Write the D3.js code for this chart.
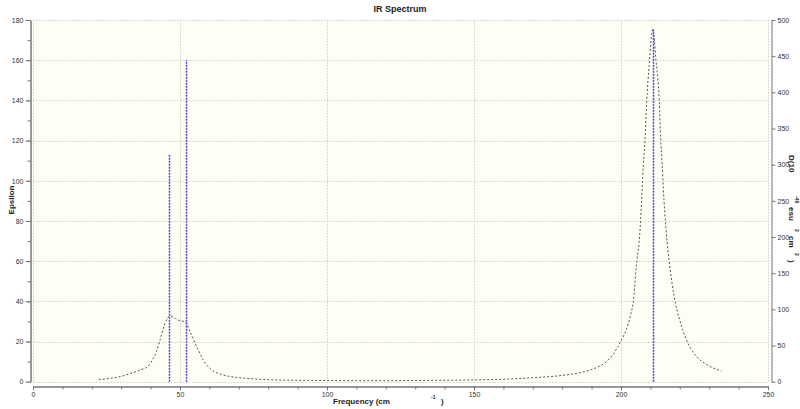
<!DOCTYPE html>
<html>
<head>
<meta charset="utf-8">
<script src="https://cdn.jsdelivr.net/npm/d3@7"></script>
<style>
body { margin: 0; background: #fff; }
svg { display: block; font-family: "Liberation Sans", Arial, sans-serif; }
.axis path, .axis line { stroke: #777; }
.axis text { fill: #333; font-size: 7px; }
</style>
</head>
<body>
<div id="chart"></div>
<script>
// broadened spectrum (epsilon)
var freq = [22.4, 26, 29.6, 33, 36.4, 39, 40.9, 42, 43.2, 44.9, 46.6, 48.5, 50, 51.7, 53.4, 55.7, 57.9, 60.8, 63.6, 67, 70, 75, 80, 90,
    100, 110, 120, 130, 140, 150, 160, 170, 179.3, 185, 189.5, 193, 195.1, 197.5, 199.7, 202.5, 203.4, 204.2, 205.1, 206.5, 207.2,
    207.6, 208.2, 208.7, 209.6, 210.8, 211.9, 213.0, 213.5, 214, 214.4, 215.3, 216.7, 218.0, 220.1, 221.8, 225.7, 229.1, 234.2];
var eps = [1.0, 1.6, 2.5, 4, 5.8, 7.5, 11.6, 15, 20.7, 29, 32.7, 31.5, 30.3, 29.9, 24.9, 17.4, 10.8, 5.8, 3.8, 2.6, 2.0, 1.4, 1.0, 0.7,
    0.6, 0.5, 0.5, 0.6, 0.7, 0.9, 1.2, 2.0, 3.0, 4.2, 5.8, 8, 10, 14, 19.5, 29, 34, 40, 56, 76, 96,
    108, 121, 138, 158, 175.5, 160, 140, 121, 108, 96, 76, 56, 43, 30, 22.5, 12.5, 8.6, 5.3];

// stick spectrum (IR intensity, right axis)
var stickFreq = [46.3, 52.0, 210.9];
var stickInt = [315, 445, 487];

var xTicks = [0, 50, 100, 150, 200, 250];
var epsTicks = [0, 20, 40, 60, 80, 100, 120, 140, 160, 180];
var intTicks = [0, 50, 100, 150, 200, 250, 300, 350, 400, 450, 500];

var width = 800, height = 409;
var svg = d3.select("#chart").append("svg").attr("width", width).attr("height", height);

var x = d3.scaleLinear().domain([0, 250]).range([33, 768]);
var yL = d3.scaleLinear().domain([0, 180]).range([381.7, 20]);
var yR = d3.scaleLinear().domain([0, 500]).range([381.7, 20]);

// plot background
svg.append("rect")
    .attr("x", 32).attr("y", 19)
    .attr("width", 738).attr("height", 364)
    .attr("fill", "#fefef4");

// grid
var grid = svg.append("g").attr("stroke", "#d0d0c8").attr("stroke-dasharray", "1.5,1.5").attr("stroke-width", 1);
grid.selectAll("line.v").data(xTicks).enter().append("line")
    .attr("x1", function(d) { return Math.round(x(d)) + 0.5; })
    .attr("x2", function(d) { return Math.round(x(d)) + 0.5; })
    .attr("y1", yL(180)).attr("y2", yL(0));
grid.selectAll("line.h").data(epsTicks).enter().append("line")
    .attr("y1", function(d) { return Math.round(yL(d)) + 0.5; })
    .attr("y2", function(d) { return Math.round(yL(d)) + 0.5; })
    .attr("x1", x(0)).attr("x2", x(250));

// axes
svg.append("g").attr("class", "axis").attr("transform", "translate(30.5,0)")
    .call(d3.axisLeft(yL).tickValues(d3.range(0, 181, 10)).tickSize(3).tickSizeOuter(0).tickFormat(""));
svg.append("g").attr("class", "axis").attr("transform", "translate(30.5,0)")
    .call(d3.axisLeft(yL).tickValues(epsTicks).tickSize(5).tickSizeOuter(0).tickPadding(2));

svg.append("g").attr("class", "axis").attr("transform", "translate(0,386.5)")
    .call(d3.axisBottom(x).tickValues(d3.range(0, 251, 10)).tickSize(3).tickSizeOuter(0).tickFormat(""));
svg.append("g").attr("class", "axis").attr("transform", "translate(0,386.5)")
    .call(d3.axisBottom(x).tickValues(xTicks).tickSize(4).tickSizeOuter(0).tickPadding(2));

svg.append("g").attr("class", "axis").attr("transform", "translate(771.5,0)")
    .call(d3.axisRight(yR).tickValues(intTicks).tickSize(4).tickSizeOuter(0).tickPadding(2));

// broadened curve
var line = d3.line()
    .x(function(d, i) { return x(freq[i]); })
    .y(function(d) { return yL(d); })
    .curve(d3.curveMonotoneX);
svg.append("path")
    .datum(eps)
    .attr("d", line)
    .attr("fill", "none")
    .attr("stroke", "#555")
    .attr("stroke-width", 1)
    .attr("stroke-dasharray", "2,2");

// sticks
svg.selectAll("line.stick").data(stickInt).enter().append("line")
    .attr("x1", function(d, i) { return Math.round(x(stickFreq[i])) + 0.5; })
    .attr("x2", function(d, i) { return Math.round(x(stickFreq[i])) + 0.5; })
    .attr("y1", yR(0))
    .attr("y2", function(d) { return yR(d); })
    .attr("stroke", "#4646ee")
    .attr("stroke-width", 1.5)
    .attr("stroke-dasharray", "2,1");

// titles
svg.append("text").attr("x", 400).attr("y", 12).attr("text-anchor", "middle")
    .attr("font-size", 9).attr("font-weight", "bold").attr("fill", "#222").text("IR Spectrum");

svg.append("text").attr("transform", "translate(14,200) rotate(-90)").attr("text-anchor", "middle")
    .attr("font-size", 8).attr("font-weight", "bold").attr("fill", "#222").text("Epsilon");

var xl = svg.append("g").attr("font-weight", "bold").attr("fill", "#222");
xl.append("text").attr("x", 333).attr("y", 404).attr("font-size", 8).text("Frequency (cm");
xl.append("text").attr("x", 431).attr("y", 399).attr("font-size", 5).text("-1");
xl.append("text").attr("x", 441).attr("y", 404).attr("font-size", 8).text(")");

var yl = svg.append("g").attr("transform", "translate(789,0) rotate(90)")
    .attr("font-weight", "bold").attr("fill", "#222");
yl.append("text").attr("x", 155).attr("y", 0).attr("font-size", 8).text("D(10");
yl.append("text").attr("x", 196).attr("y", -6).attr("font-size", 5).text("-40");
yl.append("text").attr("x", 207).attr("y", 0).attr("font-size", 8).text("esu");
yl.append("text").attr("x", 229).attr("y", -6).attr("font-size", 5).text("2");
yl.append("text").attr("x", 236).attr("y", 0).attr("font-size", 8).text("cm");
yl.append("text").attr("x", 253).attr("y", -6).attr("font-size", 5).text("2");
yl.append("text").attr("x", 260).attr("y", 0).attr("font-size", 8).text(")");
</script>
</body>
</html>
